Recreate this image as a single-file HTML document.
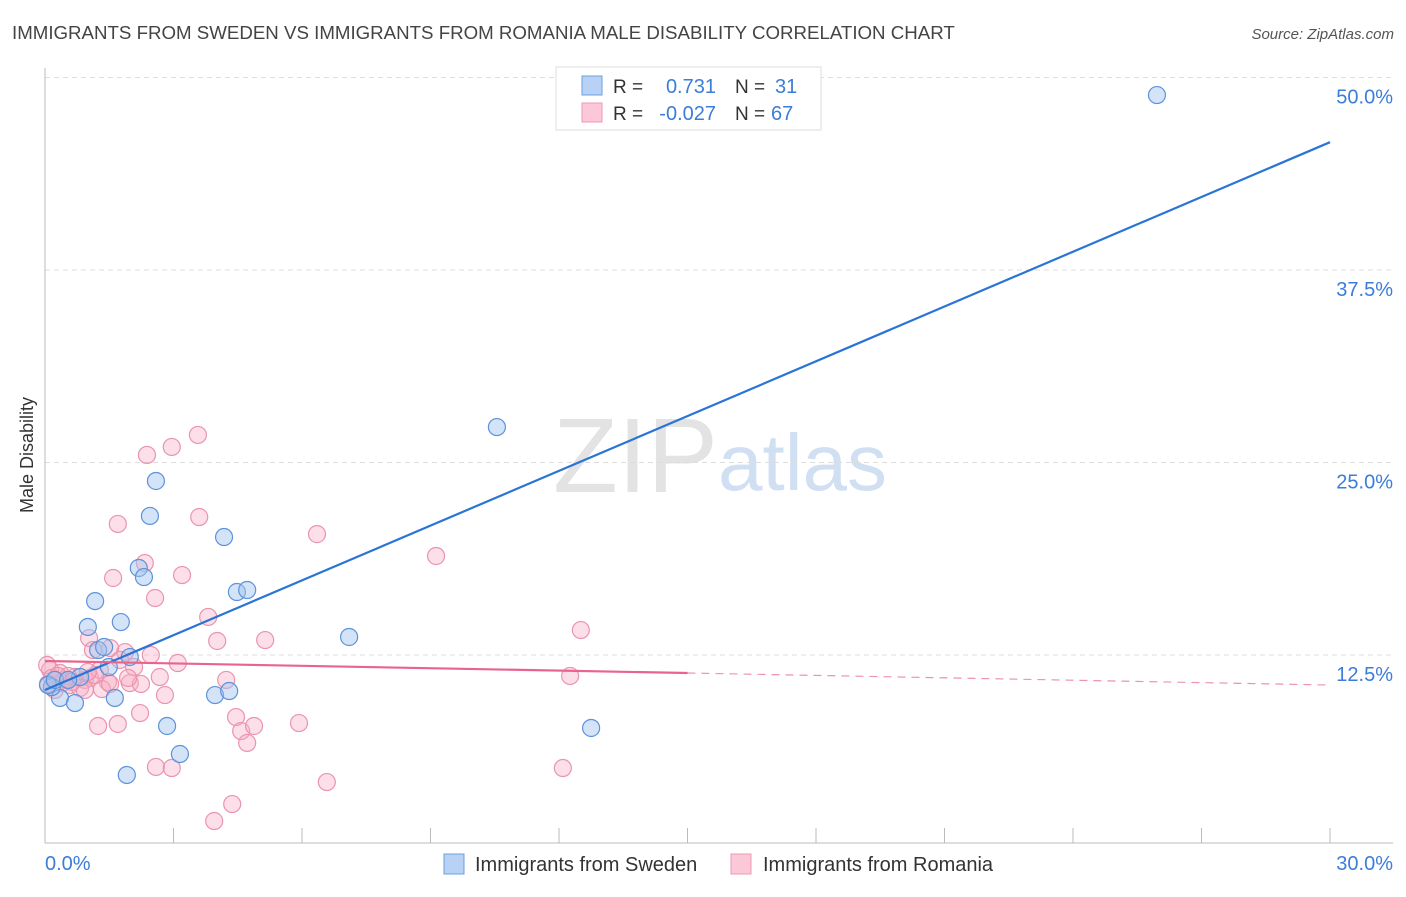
<!DOCTYPE html>
<html><head><meta charset="utf-8"><style>
body{margin:0;background:#fff;font-family:"Liberation Sans",sans-serif;}
svg text{font-family:"Liberation Sans",sans-serif;}
</style></head><body>
<svg id="chart" width="1406" height="892" xmlns="http://www.w3.org/2000/svg">
<text x="12" y="39" font-size="18.7" fill="#444">IMMIGRANTS FROM SWEDEN VS IMMIGRANTS FROM ROMANIA MALE DISABILITY CORRELATION CHART</text>
<text x="1394" y="39" font-size="15" fill="#555" font-style="italic" text-anchor="end">Source: ZipAtlas.com</text>
<g>
<text x="553" y="492" font-size="106" fill="#ddd" font-family="Liberation Serif" opacity="0.8">ZIP</text>
<text x="718" y="490" font-size="80" fill="#c5d8f0" opacity="0.8">atlas</text>
</g>
<g id="grid"></g>
<line x1="45" y1="68" x2="45" y2="843" stroke="#bbb"/>
<line x1="45" y1="843" x2="1393" y2="843" stroke="#bbb"/>
<g id="xticks"></g>
<g id="ylabels"></g>
<text x="45" y="870" font-size="20" fill="#3b7dd8">0.0%</text>
<text x="1393" y="870" font-size="20" fill="#3b7dd8" text-anchor="end">30.0%</text>
<text transform="translate(33,455) rotate(-90)" font-size="18" fill="#333" text-anchor="middle">Male Disability</text>
<g id="pinkpts"></g>
<g id="bluepts"></g>
<g id="lines"></g>
<g>
<rect x="556" y="67" width="265" height="63" fill="#fff" stroke="#ddd"/>
<rect x="582" y="76" width="20" height="19" fill="#b8d2f5" stroke="#6d9de0"/>
<rect x="582" y="103" width="20" height="19" fill="#fcc8d8" stroke="#ec9ab4"/>
<text x="613" y="93" font-size="19" fill="#333">R =</text>
<text x="716" y="93" font-size="20" fill="#3b7dd8" text-anchor="end">0.731</text>
<text x="735" y="93" font-size="19" fill="#333">N =</text>
<text x="775" y="93" font-size="20" fill="#3b7dd8">31</text>
<text x="613" y="120" font-size="19" fill="#333">R =</text>
<text x="716" y="120" font-size="20" fill="#3b7dd8" text-anchor="end">-0.027</text>
<text x="735" y="120" font-size="19" fill="#333">N =</text>
<text x="771" y="120" font-size="20" fill="#3b7dd8">67</text>
</g>
<g>
<rect x="444" y="854" width="20" height="20" fill="#b8d2f5" stroke="#6d9de0"/>
<text x="475" y="871" font-size="20" fill="#333">Immigrants from Sweden</text>
<rect x="731" y="854" width="20" height="20" fill="#fcc8d8" stroke="#ec9ab4"/>
<text x="763" y="871" font-size="20" fill="#333">Immigrants from Romania</text>
</g>
</svg>
<script>
const yTicks=[12.5,25,37.5,50];
const yTickLabels=["12.5%","25.0%","37.5%","50.0%"];
const xTicks=[3,6,9,12,15,18,21,24,27,30];
const swedenX=[25.96,10.55,2.59,2.45,4.18,2.19,2.31,4.48,4.72,1.17,1.77,1.00,7.10,1.24,1.38,1.98,1.49,0.82,0.35,0.70,1.63,3.97,4.30,0.16,0.07,2.85,12.75,3.15,1.91,0.23,0.54];
const swedenY=[48.86,27.30,23.80,21.53,20.16,18.15,17.56,16.59,16.72,16.00,14.64,14.32,13.67,12.82,13.02,12.37,11.72,11.07,9.71,9.38,9.71,9.90,10.16,10.42,10.55,7.89,7.76,6.07,4.71,10.88,10.88];
const romaniaX=[3.57,2.96,2.38,1.70,3.60,6.35,9.13,2.33,1.59,3.20,2.57,3.81,12.51,4.02,5.14,1.03,1.12,1.87,2.47,3.10,1.52,2.08,2.68,1.47,1.98,2.24,1.33,2.80,4.23,12.26,2.22,1.24,1.70,4.46,4.58,4.88,5.93,4.72,2.59,2.96,12.09,6.58,4.37,3.95,0.35,0.47,0.58,0.93,0.12,0.23,0.70,1.05,0.82,0.40,1.28,1.75,0.05,0.16,0.54,0.93,1.17,1.52,1.94,0.63,0.30,0.07,1.00];
const romaniaY=[26.79,26.01,25.49,21.01,21.46,20.35,18.93,18.47,17.50,17.69,16.20,14.97,14.12,13.41,13.47,13.60,12.82,12.69,12.50,11.98,12.95,11.72,11.07,10.75,10.68,10.62,10.29,9.90,10.88,11.14,8.73,7.89,8.02,8.47,7.56,7.89,8.08,6.79,5.23,5.16,5.16,4.25,2.82,1.72,11.33,10.88,10.55,10.88,11.53,10.23,11.07,11.01,10.36,10.68,11.53,12.18,11.85,11.01,11.14,10.23,11.20,10.62,11.01,10.75,11.14,10.62,11.40];
const swedenTrend=[10.23,45.8];
const romaniaTrend=[12.11,10.55];
const NS="http://www.w3.org/2000/svg";
const X=v=>45+v/30*1285;
const Y=v=>847.5-v/12.5*192.5;
function mk(tag,attrs,parent){const e=document.createElementNS(NS,tag);for(const k in attrs)e.setAttribute(k,attrs[k]);document.getElementById(parent).appendChild(e);return e;}
yTicks.forEach((t,i)=>{
 const l=mk('line',{x1:45,x2:1393,y1:Y(t),y2:Y(t),stroke:'#ddd','stroke-dasharray':'5,4'},'grid');
 
 
 const tx=mk('text',{x:1393,y:Y(t)+26,'font-size':20,fill:'#3b7dd8','text-anchor':'end'},'ylabels');
 tx.textContent=yTickLabels[i];
 
 
});
xTicks.forEach(t=>{
 const l=mk('line',{x1:X(t),x2:X(t),y1:828,y2:843,stroke:'#bbb'},'xticks');
 
 
});
romaniaX.forEach((x,i)=>{
 const c=mk('circle',{cx:X(x),cy:Y(romaniaY[i]),r:8.5,fill:'rgba(248,175,198,0.4)',stroke:'#ea94b0','stroke-width':1.2},'pinkpts');
 
 
});
swedenX.forEach((x,i)=>{
 const c=mk('circle',{cx:X(x),cy:Y(swedenY[i]),r:8.5,fill:'rgba(160,195,240,0.45)',stroke:'#5e92da','stroke-width':1.2},'bluepts');
 
 
});
const bl=mk('line',{x1:X(0),y1:Y(swedenTrend[0]),x2:X(30),y2:Y(swedenTrend[1]),stroke:'#2a74d6','stroke-width':2.2},'lines');


const rm=romaniaTrend[0]+(romaniaTrend[1]-romaniaTrend[0])*0.5;
const pl=mk('line',{x1:X(0),y1:Y(romaniaTrend[0]),x2:X(15),y2:Y(rm),stroke:'#e8648e','stroke-width':2.2},'lines');


const pd=mk('line',{x1:X(15),y1:Y(rm),x2:X(30),y2:Y(romaniaTrend[1]),stroke:'#e8648e','stroke-width':1.2,'stroke-dasharray':'8,6',opacity:0.7},'lines');


</script>
</body></html>
